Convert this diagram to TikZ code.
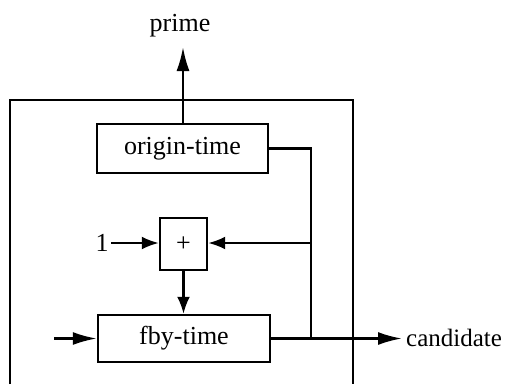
\documentclass[tikz,border=0pt]{standalone}
\usepackage{fontspec}
\setmainfont{Liberation Serif}
\usetikzlibrary{arrows.meta}
\begin{document}
\begin{tikzpicture}[x=1pt,y=-1pt,
  line width=2.4pt,
  blk/.style={draw,rectangle,inner sep=0pt,font=\fontsize{26}{29}\selectfont},
  lbl/.style={inner sep=0pt,font=\fontsize{26}{29}\selectfont},
  bigarr/.style={-{Latex[length=24pt,width=13pt]}},
  smallarr/.style={-{Latex[length=17pt,width=13pt]}}]
\useasboundingbox (0,0) rectangle (506,384);
% outer box (bottom cut off)
\draw (10,384) -- (10,100) -- (353,100) -- (353,384);
% blocks
\node[blk,minimum width=171pt,minimum height=49pt] (ot) at (182.5,148.5) {origin-time};
\node[blk,minimum width=47pt,minimum height=52pt] (plus) at (183.5,244) {+};
\node[blk,minimum width=172pt,minimum height=47pt] (fby) at (184,338.5) {fby-time};
% labels
\node[lbl] (prime) at (180,26) {prime};
\node[lbl] (one) at (102,243) {1};
\node[lbl,anchor=west,font=\fontsize{25}{28}\selectfont] (cand) at (405,338) {candidate};
% coordinates
\coordinate (ptip) at (183,47);
\coordinate (c1) at (311,148.5);
\coordinate (c2) at (311,243);
\coordinate (c3) at (311,338.5);
\coordinate (in) at (54,338.5);
\coordinate (oneout) at (111,243);
% connectors
\draw[bigarr] (ot.north -| ptip) -- (ptip);
\draw (ot.east) -- (c1) -- (c3);
\draw[smallarr] (c2) -- (c2 -| plus.east);
\draw[smallarr] (oneout) -- (oneout -| plus.west);
\draw[smallarr] (plus.south) -- (plus.south |- fby.north);
\draw[bigarr] (fby.east) -- (402,338.5);
\draw[bigarr] (in) -- (fby.west);
\end{tikzpicture}
\end{document}
